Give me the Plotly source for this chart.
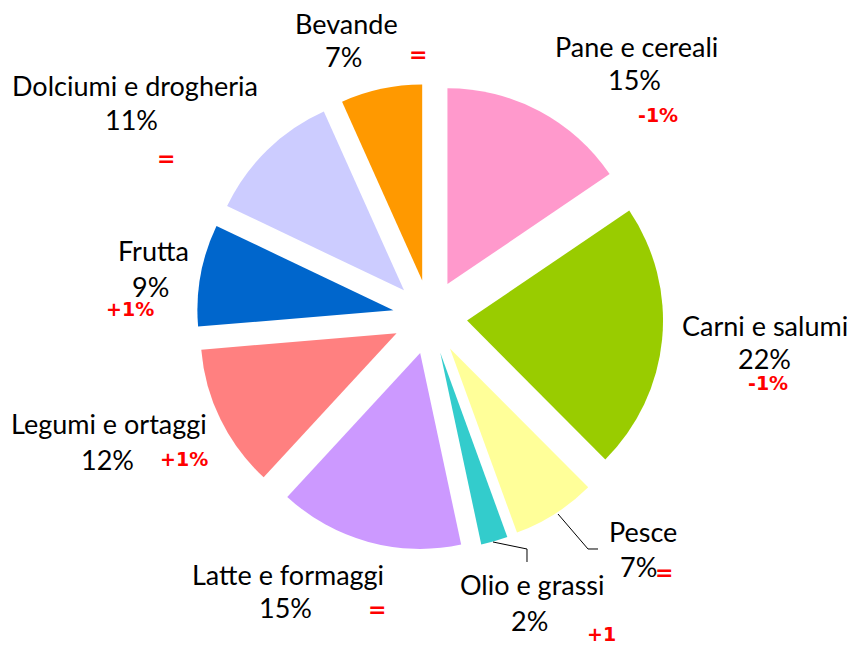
import plotly.graph_objects as go

# ---- data ----
categories = ["Pane e cereali", "Carni e salumi", "Pesce", "Olio e grassi",
              "Latte e formaggi", "Legumi e ortaggi", "Frutta",
              "Dolciumi e drogheria", "Bevande"]
# slice shares
values = [15.5, 22.0, 6.9, 2.2, 15.2, 11.8, 8.4, 11.2, 6.7]
# percentages as printed on the chart
pct_labels = ["15%", "22%", "7%", "2%", "15%", "12%", "9%", "11%", "7%"]
changes = ["-1%", "-1%", "=", "+1", "=", "+1%", "+1%", "=", "="]

# ---- styles / layout ----
colors = ["#FF99CC", "#99CC00", "#FFFF99", "#33CCCC", "#CC99FF",
          "#FF8080", "#0066CC", "#CCCCFF", "#FF9900"]
OFF = 8                      # page body margin
W, H = 855 - OFF, 645 - OFF  # figure size
MAIN_FONT = "Lato"
RED_FONT = "DejaVu Sans"

# label positions in window pixels (name line, percent line, change text)
name_pos = [(636, 47), (765, 325), (643, 531), (532, 584), (288, 574),
            (109, 424), (153, 250), (135, 85), (346, 23)]
pct_pos = [(634, 80), (764, 358), (638, 566), (529, 620), (285, 607),
           (107, 459), (150, 286), (132, 119), (343, 57)]
chg_pos = [(658, 115), (768, 383), (664, 572), (601, 634), (377, 609),
           (184, 459), (130, 309), (166, 158), (418, 54)]

# pie centre / outer extent in window pixels
CX, CY, REACH = 430, 317, 233.2


def px(x, y):
    return (x - OFF) / W, 1 - (y - OFF) / H


x0, y1 = px(CX - REACH, CY - REACH)
x1, y0 = px(CX + REACH, CY + REACH)

fig = go.Figure(go.Pie(
    labels=categories,
    values=values,
    sort=False,
    direction="clockwise",
    rotation=0,
    pull=[0.19] * len(values),
    marker=dict(colors=colors, line=dict(width=0)),
    textinfo="none",
    hoverinfo="label+percent",
    domain=dict(x=[x0, x1], y=[y0, y1]),
))

ann = []
for i, cat in enumerate(categories):
    x, y = px(*name_pos[i])
    ann.append(dict(x=x, y=y, xref="paper", yref="paper", text=cat,
                    showarrow=False, xanchor="center", yanchor="middle",
                    font=dict(family=MAIN_FONT, size=27, color="#000000")))
    x, y = px(*pct_pos[i])
    ann.append(dict(x=x, y=y, xref="paper", yref="paper", text=pct_labels[i],
                    showarrow=False, xanchor="center", yanchor="middle",
                    font=dict(family=MAIN_FONT, size=27, color="#000000")))
    x, y = px(*chg_pos[i])
    size = 22 if changes[i] == "=" else 19
    ann.append(dict(x=x, y=y, xref="paper", yref="paper", text=f"<b>{changes[i]}</b>",
                    showarrow=False, xanchor="center", yanchor="middle",
                    font=dict(family=RED_FONT, size=size, color="#FF0000")))

# leader lines for the small slices (Pesce, Olio e grassi)
leaders = [
    [(558, 514), (588, 549), (598, 549)],
    [(493, 542), (527, 549), (527, 562)],
]
shapes = []
for pts in leaders:
    p = [px(*q) for q in pts]
    path = "M " + " L ".join(f"{a:.5f},{b:.5f}" for a, b in p)
    shapes.append(dict(type="path", path=path, xref="paper", yref="paper",
                       line=dict(color="#000000", width=1)))

fig.update_layout(
    width=W, height=H,
    margin=dict(l=0, r=0, t=0, b=0),
    paper_bgcolor="white",
    plot_bgcolor="white",
    showlegend=False,
    annotations=ann,
    shapes=shapes,
)

fig.write_html("out.html")
